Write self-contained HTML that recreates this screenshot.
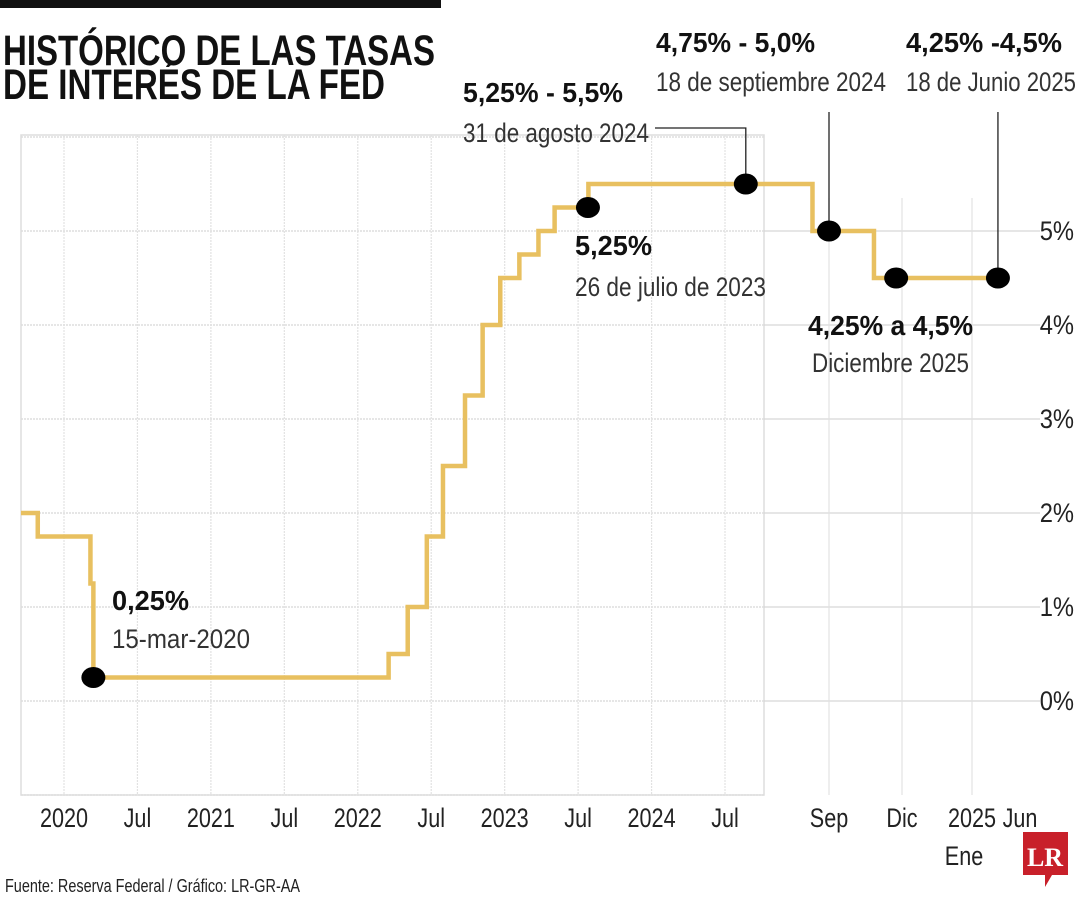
<!DOCTYPE html>
<html><head><meta charset="utf-8"><style>
html,body{margin:0;padding:0;background:#fff;}
svg{display:block;font-family:"Liberation Sans Narrow","Liberation Sans",sans-serif;}
</style></head><body>
<svg id="chart" width="1080" height="900" viewBox="0 0 1080 900" xmlns="http://www.w3.org/2000/svg">
<rect x="0" y="0" width="441" height="8" fill="#111"/>
<g font-weight="bold" font-size="43" fill="#111">
<text x="3" y="65" textLength="432" lengthAdjust="spacingAndGlyphs">HISTÓRICO DE LAS TASAS</text>
<text x="3" y="99" textLength="382" lengthAdjust="spacingAndGlyphs">DE INTERÉS DE LA FED</text>
</g>
<g id="grid"></g>
<g id="xaxis"></g>
<g id="yaxis"></g>
<g id="leaders"></g>
<path id="line" fill="none" stroke="#e8c060" stroke-width="4.5"/>
<g id="dots"></g>
<g id="annots" fill="#111"></g>
<text x="5" y="892" font-size="18" fill="#222" textLength="295" lengthAdjust="spacingAndGlyphs">Fuente: Reserva Federal / Gráfico: LR-GR-AA</text>
<g>
<path d="M1023 832 H1068 V875 H1052 L1045 887 L1045 875 H1023 Z" fill="#c8202a"/>
<text x="1045" y="866" font-family="Liberation Serif,serif" font-weight="bold" font-size="26" fill="#fff" text-anchor="middle">LR</text>
</g>
</svg>
<script>
// Data arrays
const stepDates = [2019.705, 2019.82, 2020.18, 2020.2, 2022.21, 2022.34, 2022.47, 2022.58, 2022.73, 2022.85, 2022.97, 2023.10, 2023.23, 2023.34, 2023.57, 2024.643, 2024.824];
const stepRates = [2.0, 1.75, 1.25, 0.25, 0.5, 1.0, 1.75, 2.5, 3.25, 4.0, 4.5, 4.75, 5.0, 5.25, 5.5, 5.0, 4.5];
const lineEnd = 2025.227;
const pointDates = [2020.2, 2023.567, 2024.534, 2024.67, 2024.9, 2025.227];
const pointRates = [0.25, 5.25, 5.5, 5.0, 4.5, 4.5];
const xTickLabels = ["2020","Jul","2021","Jul","2022","Jul","2023","Jul","2024","Jul","Sep","Dic","2025","Jun"];
const xTickDates = [2020, 2020.5, 2021, 2021.5, 2022, 2022.5, 2023, 2023.5, 2024, 2024.5, 2024.67, 2024.92, 2025.0, 2025.42];
const yTickValues = [0,1,2,3,4,5];
const yTickLabels = ["0%","1%","2%","3%","4%","5%"];

const NS="http://www.w3.org/2000/svg";
const xAnch=[[2019.705,21],[2020,64],[2024.5,725],[2024.67,829],[2024.92,902],[2025.0,972],[2025.42,1020]];
function x(t){
  for(let i=0;i<xAnch.length-1;i++){
    const a=xAnch[i],b=xAnch[i+1];
    if(t<=b[0]||i===xAnch.length-2){return a[1]+(t-a[0])/(b[0]-a[0])*(b[1]-a[1]);}
  }
}
function y(v){return 701-v*94;}
function mk(tag,attrs,parent){const e=document.createElementNS(NS,tag);for(const k in attrs)e.setAttribute(k,attrs[k]);parent.appendChild(e);return e;}
function squeeze(t,f){const w=t.getComputedTextLength();if(w>0){t.setAttribute('textLength',(w*f).toFixed(1));t.setAttribute('lengthAdjust','spacingAndGlyphs');}}

const grid=document.getElementById('grid');
const box=mk('rect',{x:21,y:135,width:743,height:660,fill:'none',stroke:'#ddd','stroke-width':1.5},grid);


for(let v=-1;v<=6;v++){
  const l=mk('line',{x1:21,x2:764,y1:y(v),y2:y(v),stroke:'#ddd','stroke-width':1.5,'stroke-dasharray':'2 1'},grid);
  
  
}
yTickValues.forEach(v=>{
  const l=mk('line',{x1:764,x2:1040,y1:y(v),y2:y(v),stroke:'#d6d6d6','stroke-width':1.2},grid);
  
  
});
xTickDates.forEach((t,i)=>{
  const xx=x(t);
  if(i<10){
    const l=mk('line',{x1:xx,x2:xx,y1:135,y2:795,stroke:'#e2e2e2','stroke-width':1.2,'stroke-dasharray':'2 1'},grid);
    
    
  } else if(i<13){
    const l=mk('line',{x1:xx,x2:xx,y1:198,y2:795,stroke:'#e2e2e2','stroke-width':1.2},grid);
    
    
  }
});
const xa=document.getElementById('xaxis');
xTickLabels.forEach((s,i)=>{
  const tx=mk('text',{x:x(xTickDates[i]),y:827,'font-size':27,fill:'#222','text-anchor':'middle'},xa);
  tx.textContent=s;
  
  
  squeeze(tx,0.8);
});
const ene=mk('text',{x:x(2025.0)-8,y:865,'font-size':27,fill:'#222','text-anchor':'middle'},xa);
ene.textContent="Ene";


squeeze(ene,0.8);
const ya=document.getElementById('yaxis');
yTickValues.forEach((v,i)=>{
  const tx=mk('text',{x:1074,y:y(v)+9,'font-size':27,fill:'#222','text-anchor':'end'},ya);
  tx.textContent=yTickLabels[i];
  
  
  squeeze(tx,0.88);
});
let d='M'+x(stepDates[0])+' '+y(stepRates[0]);
for(let i=1;i<stepDates.length;i++){
  d+=' H'+x(stepDates[i])+' V'+y(stepRates[i]);
}
d+=' H'+x(lineEnd);
document.getElementById('line').setAttribute('d',d);
const ld=document.getElementById('leaders');
function pl(pts){const p=mk('polyline',{points:pts,fill:'none',stroke:'#222','stroke-width':1.3},ld);

}
pl('655,128 '+x(pointDates[2])+',128 '+x(pointDates[2])+','+y(pointRates[2]));
pl(x(pointDates[3])+',112 '+x(pointDates[3])+','+y(pointRates[3]));
pl(x(pointDates[5])+',112 '+x(pointDates[5])+','+y(pointRates[5]));
const dg=document.getElementById('dots');
pointDates.forEach((t,i)=>{
  const c=mk('ellipse',{cx:x(t),cy:y(pointRates[i]),rx:12,ry:10.5,fill:'#000'},dg);
  
  
});
const an=document.getElementById('annots');
function lab(xx,yy,s,w,bold,name){
  const t=mk('text',{x:xx,y:yy,'font-size':bold?28:27,'font-weight':bold?'bold':'normal',textLength:w,lengthAdjust:'spacingAndGlyphs',fill:bold?'#111':'#333'},an);
  t.textContent=s;
  
  
}
lab(112,610,"0,25%",77,true,'annotation-value');
lab(112,648,"15-mar-2020",138,false,'annotation-date');
lab(463,102,"5,25% - 5,5%",160,true,'annotation-value');
lab(463,142,"31 de agosto 2024",186,false,'annotation-date');
lab(656,52,"4,75% - 5,0%",159,true,'annotation-value');
lab(656,91,"18 de septiembre 2024",230,false,'annotation-date');
lab(906,52,"4,25% -4,5%",156,true,'annotation-value');
lab(906,91,"18 de Junio 2025",170,false,'annotation-date');
lab(575,255,"5,25%",77,true,'annotation-value');
lab(575,296,"26 de julio de 2023",191,false,'annotation-date');
lab(808,335,"4,25% a 4,5%",165,true,'annotation-value');
lab(812,372,"Diciembre 2025",157,false,'annotation-date');
</script>
</body></html>
